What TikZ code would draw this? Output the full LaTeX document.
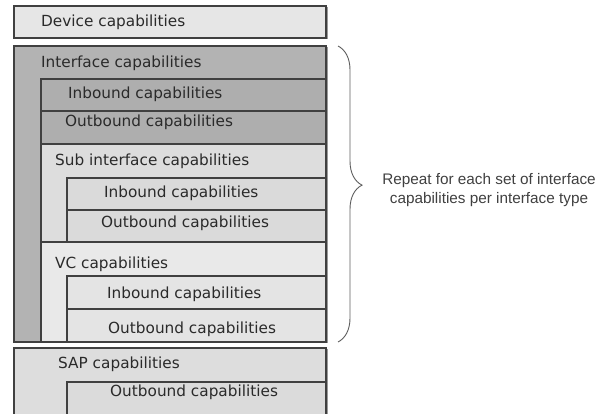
\documentclass[tikz,border=0pt]{standalone}
\usepackage{fontspec}
\setmainfont{DejaVu Sans}
\newfontfamily\notefont{Liberation Sans}
\usetikzlibrary{decorations.pathreplacing}

\definecolor{edge}{HTML}{404040}
\definecolor{shade}{HTML}{9A9A9A}
\definecolor{ink}{HTML}{2A2A2A}
\definecolor{fDevice}{HTML}{E6E6E6}
\definecolor{fIface}{HTML}{B3B3B3}
\definecolor{fIfaceIO}{HTML}{AEAEAE}
\definecolor{fSub}{HTML}{DDDDDD}
\definecolor{fSubIO}{HTML}{DADADA}
\definecolor{fVC}{HTML}{E9E9E9}
\definecolor{fVCIO}{HTML}{E4E4E4}
\definecolor{fSAP}{HTML}{DDDDDD}
\definecolor{fSAPIO}{HTML}{DBDBDB}

\tikzset{
  capbox/.style={draw=edge, line width=1.1pt},
  boxshadow/.style={draw=shade, line width=1.2pt},
  caption/.style={anchor=west, inner sep=0pt, text=ink,
    font=\fontsize{15.3}{18}\selectfont},
  note/.style={inner sep=0pt, text=edge, align=center,
    font=\notefont\fontsize{15.3}{18.5}\selectfont},
  bracestyle/.style={draw=edge!85!white, line width=0.9pt,
    decorate, decoration={brace, amplitude=24pt, aspect=0.47}}
}

\begin{document}
\begin{tikzpicture}[x=1pt, y=-1pt]
\useasboundingbox (0,0) rectangle (602,413);
\clip (0,0) rectangle (602,413);

% right-hand shadow edges
\foreach \ya/\yb in {6/39, 46/343, 348/414}
  \draw[boxshadow] (327.6,\ya+1) -- (327.6,\yb);

% device level
\filldraw[capbox, fill=fDevice] (14,6) rectangle (326,38);

% interface level
\filldraw[capbox, fill=fIface] (14,46) rectangle (326,342);
\filldraw[capbox, fill=fIfaceIO] (41,79) rectangle (326,111);
\filldraw[capbox, fill=fIfaceIO] (41,111) rectangle (326,144);

% sub interface level
\filldraw[capbox, fill=fSub] (41,144) rectangle (326,242);
\filldraw[capbox, fill=fSubIO] (67,178) rectangle (326,210);
\filldraw[capbox, fill=fSubIO] (67,210) rectangle (326,242);

% VC level
\filldraw[capbox, fill=fVC] (41,242) rectangle (326,342);
\filldraw[capbox, fill=fVCIO] (67,276) rectangle (326,309);
\filldraw[capbox, fill=fVCIO] (67,309) rectangle (326,342);

% SAP level
\filldraw[capbox, fill=fSAP] (14,348) rectangle (326,425);
\filldraw[capbox, fill=fSAPIO] (67,382) rectangle (326,425);

% captions
\node[caption] (device)   at (41,22)  {Device capabilities};
\node[caption] (iface)    at (41,63)  {Interface capabilities};
\node[caption] (ifin)     at (68,94)  {Inbound capabilities};
\node[caption] (ifout)    at (65,122) {Outbound capabilities};
\node[caption] (sub)      at (55,161) {Sub interface capabilities};
\node[caption] (subin)    at (104,193) {Inbound capabilities};
\node[caption] (subout)   at (101,223) {Outbound capabilities};
\node[caption] (vc)       at (55,264) {VC capabilities};
\node[caption] (vcin)     at (107,294) {Inbound capabilities};
\node[caption] (vcout)    at (108,329) {Outbound capabilities};
\node[caption] (sap)      at (58,364) {SAP capabilities};
\node[caption] (sapout)   at (110,392) {Outbound capabilities};

% brace spanning the repeated interface block
\coordinate (bracetop) at (338,46);
\coordinate (bracebot) at (338,342);
\draw[bracestyle] (bracetop) -- (bracebot);
\node[note] (repeat) at (489,190)
  {Repeat for each set of interface\\capabilities per interface type};
\end{tikzpicture}
\end{document}
